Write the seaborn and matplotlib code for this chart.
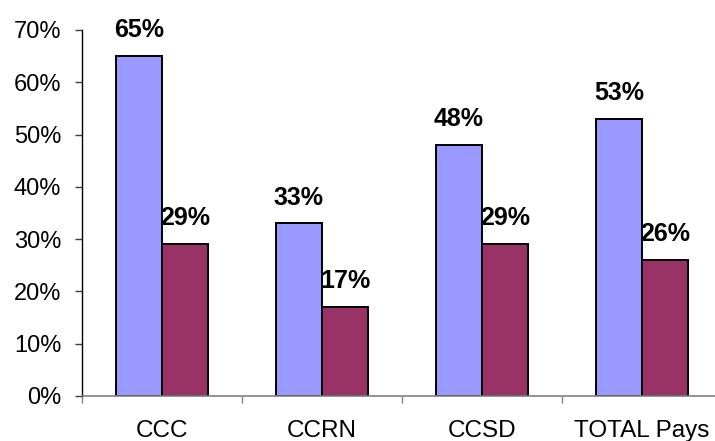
import matplotlib
matplotlib.use("Agg")
import matplotlib.pyplot as plt
import seaborn as sns
import pandas as pd
from matplotlib.ticker import FixedLocator, PercentFormatter

# Categories and the two series (shares, 0-1)
categories = ["CCC", "CCRN", "CCSD", "TOTAL Pays"]
series_names = ["Série 1", "Série 2"]
series_1 = [0.65, 0.33, 0.48, 0.53]
series_2 = [0.29, 0.17, 0.29, 0.26]
colors = ["#9999FF", "#993366"]
y_ticks = [0.0, 0.1, 0.2, 0.3, 0.4, 0.5, 0.6, 0.7]

df = pd.DataFrame({
    "categorie": categories * 2,
    "serie": [series_names[0]] * len(categories) + [series_names[1]] * len(categories),
    "valeur": series_1 + series_2,
})

sns.set_theme(style="white")
plt.rcParams["font.family"] = ["Liberation Sans", "DejaVu Sans"]

fig = plt.figure(figsize=(7.15, 4.41), dpi=100)
ax = fig.add_axes([82 / 715, 45 / 441, 640 / 715, 366 / 441])

sns.barplot(
    data=df, x="categorie", y="valeur", hue="serie",
    palette=colors, width=0.58, gap=0, dodge=True,
    edgecolor="black", linewidth=1.4, saturation=1, legend=False, ax=ax,
)

for cont in ax.containers:
    vals = [b.get_height() for b in cont]
    ax.bar_label(cont, labels=[f"{v:.0%}" for v in vals], padding=10,
                 fontsize=18, fontweight="bold", color="black")

ax.set_xlim(-0.5, 3.5)
ax.set_ylim(0, 0.7)
ax.yaxis.set_major_locator(FixedLocator(y_ticks))
ax.yaxis.set_major_formatter(PercentFormatter(1.0, decimals=0))
ax.set_xlabel("")
ax.set_ylabel("")

# Category separators as minor ticks on the x axis
ax.xaxis.set_minor_locator(FixedLocator([-0.5, 0.5, 1.5, 2.5, 3.5]))
ax.tick_params(axis="x", which="major", length=0, pad=17, labelsize=17.5, colors="black")
ax.tick_params(axis="x", which="minor", direction="out", length=5, width=1, color="#808080", bottom=True)
ax.tick_params(axis="y", which="major", direction="out", length=5, width=1, color="#404040",
               pad=10, labelsize=17, labelcolor="black", left=True)

for side in ["top", "right"]:
    ax.spines[side].set_visible(False)
ax.spines["left"].set_color("black")
ax.spines["left"].set_linewidth(1)
ax.spines["bottom"].set_color("#808080")
ax.spines["bottom"].set_linewidth(1.2)
ax.grid(False)

fig.savefig("out.png", dpi=100)
